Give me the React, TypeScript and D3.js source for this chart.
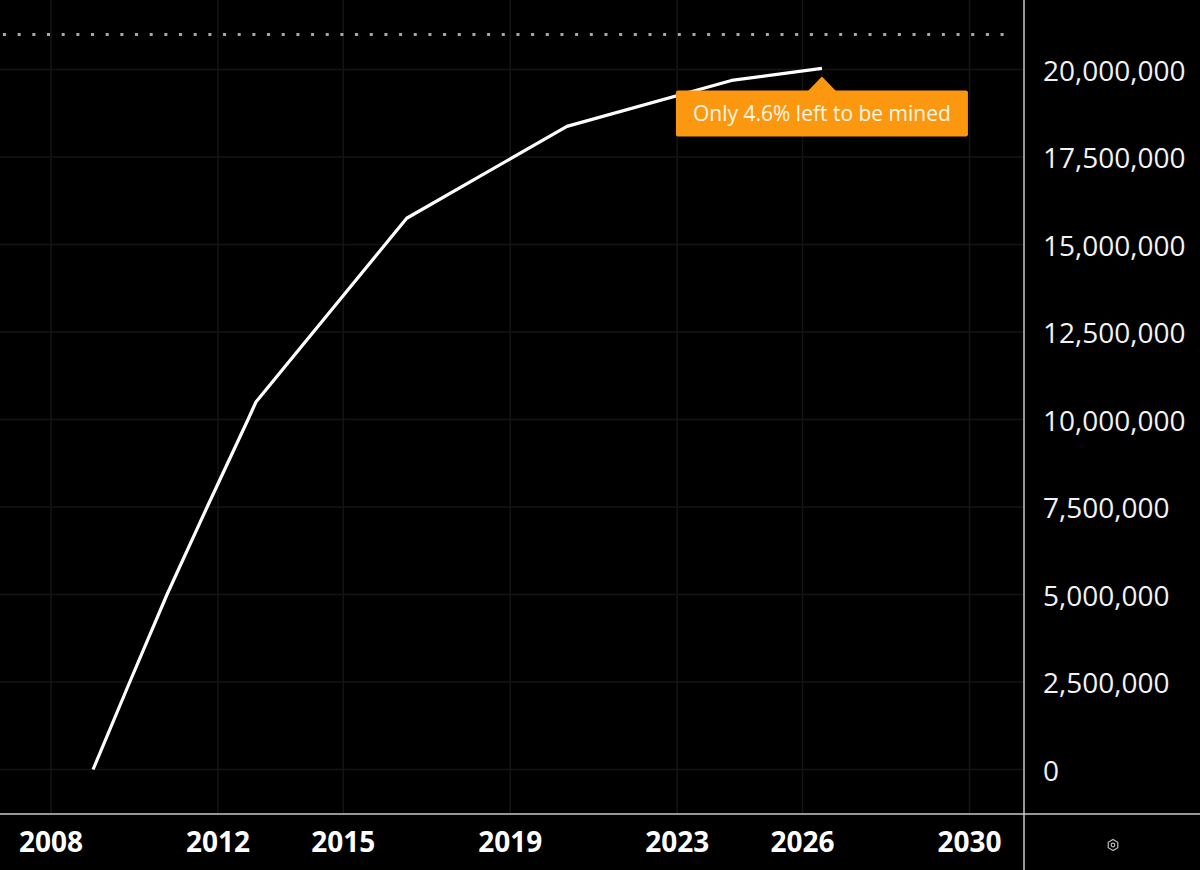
import { useMemo } from 'react';
import * as d3 from 'd3';

// bitcoin supply in circulation
const dates = [
  '2009-01-03',
  '2009-11-20',
  '2010-10-12',
  '2011-09-28',
  '2012-09-20',
  '2012-11-28',
  '2016-07-09',
  '2020-05-11',
  '2024-04-20',
  '2026-06-20',
];
const supply = [0, 2500000, 5000000, 7500000, 10000000, 10500000, 15750000, 18375000, 19687500, 20030000];

const yTicks = [0, 2500000, 5000000, 7500000, 10000000, 12500000, 15000000, 17500000, 20000000];
const xTickYears = [2008, 2012, 2015, 2019, 2023, 2026, 2030];
const maxSupply = 21000000;
const note = 'Only 4.6% left to be mined';

export default function App() {
  const width = 1200;
  const height = 870;
  const plotRight = 1024;
  const axisTop = 814;
  const font = '"Open Sans", "Noto Sans", sans-serif';
  const orange = '#fb9810';
  const gridColor = '#141414';

  const parse = d3.timeParse('%Y-%m-%d');
  const points = useMemo(
    () => dates.map((d, i) => ({ date: parse(d) as Date, value: supply[i] })),
    []
  );

  const x = d3
    .scaleTime()
    .domain([new Date(2008, 0, 1), new Date(2030, 0, 1)])
    .range([51, 969.5]);
  const y = d3.scaleLinear().domain([0, 20000000]).range([769.5, 69.5]);

  const line = d3
    .line<{ date: Date; value: number }>()
    .x((d) => x(d.date))
    .y((d) => y(d.value));

  const fmt = d3.format(',');
  const last = points[points.length - 1];
  const tipX = x(last.date);
  const tipY = y(last.value) + 8;
  const arrowH = 14;
  const boxW = 292;
  const boxH = 46;
  const boxTop = tipY + arrowH;

  return (
    <svg
      width={width}
      height={height}
      style={{ position: 'absolute', left: 0, top: 0, background: '#000' }}
    >
      <rect width={width} height={height} fill="#000" />

      {/* grid */}
      {yTicks.map((t) => (
        <line key={t} x1={0} x2={plotRight} y1={y(t)} y2={y(t)} stroke={gridColor} strokeWidth={1.5} />
      ))}
      {xTickYears.map((yr) => {
        const xp = x(new Date(yr, 0, 1));
        return <line key={yr} x1={xp} x2={xp} y1={0} y2={axisTop} stroke={gridColor} strokeWidth={1.5} />;
      })}

      {/* supply cap */}
      <line
        x1={3}
        x2={1012}
        y1={y(maxSupply)}
        y2={y(maxSupply)}
        stroke="#a8a8a8"
        strokeWidth={3}
        strokeDasharray="3 11.67"
      />

      <path d={line(points) ?? ''} fill="none" stroke="#fff" strokeWidth={3.2} strokeLinejoin="round" />

      {/* annotation */}
      <path
        d={`M${tipX},${tipY} L${tipX + 14},${boxTop + 0.5} L${tipX - 14},${boxTop + 0.5} Z`}
        fill={orange}
      />
      <rect x={tipX - boxW / 2} y={boxTop} width={boxW} height={boxH} rx={2} fill={orange} />
      <text
        x={tipX}
        y={boxTop + boxH / 2}
        textAnchor="middle"
        dominantBaseline="central"
        fontFamily={font}
        fontSize={21}
        fill="#fff6e6"
      >
        {note}
      </text>

      {/* frame */}
      <line x1={0} x2={width} y1={axisTop} y2={axisTop} stroke="#c8c8c8" strokeWidth={1.5} />
      <line x1={plotRight} x2={plotRight} y1={0} y2={height} stroke="#c8c8c8" strokeWidth={1.5} />

      {/* y axis labels */}
      {yTicks.map((t) => (
        <text
          key={t}
          x={1043}
          y={y(t)}
          dominantBaseline="central"
          fontFamily={font}
          fontSize={28}
          fill="#f2f2f2"
        >
          {fmt(t)}
        </text>
      ))}

      {/* x axis labels */}
      {xTickYears.map((yr) => (
        <text
          key={yr}
          x={x(new Date(yr, 0, 1))}
          y={841}
          textAnchor="middle"
          dominantBaseline="central"
          fontFamily={font}
          fontWeight={700}
          fontSize={28}
          fill="#fff"
        >
          {yr}
        </text>
      ))}

      {/* settings icon */}
      <g transform="translate(1113,845)" fill="none" stroke="#bdbdbd" strokeWidth={1.2}>
        <path d={d3.range(6).map((i) => {
          const a = (Math.PI / 3) * i + Math.PI / 2;
          return `${i ? 'L' : 'M'}${5.5 * Math.cos(a)},${5.5 * Math.sin(a)}`;
        }).join(' ') + ' Z'} />
        <circle r={1.8} />
      </g>
    </svg>
  );
}
